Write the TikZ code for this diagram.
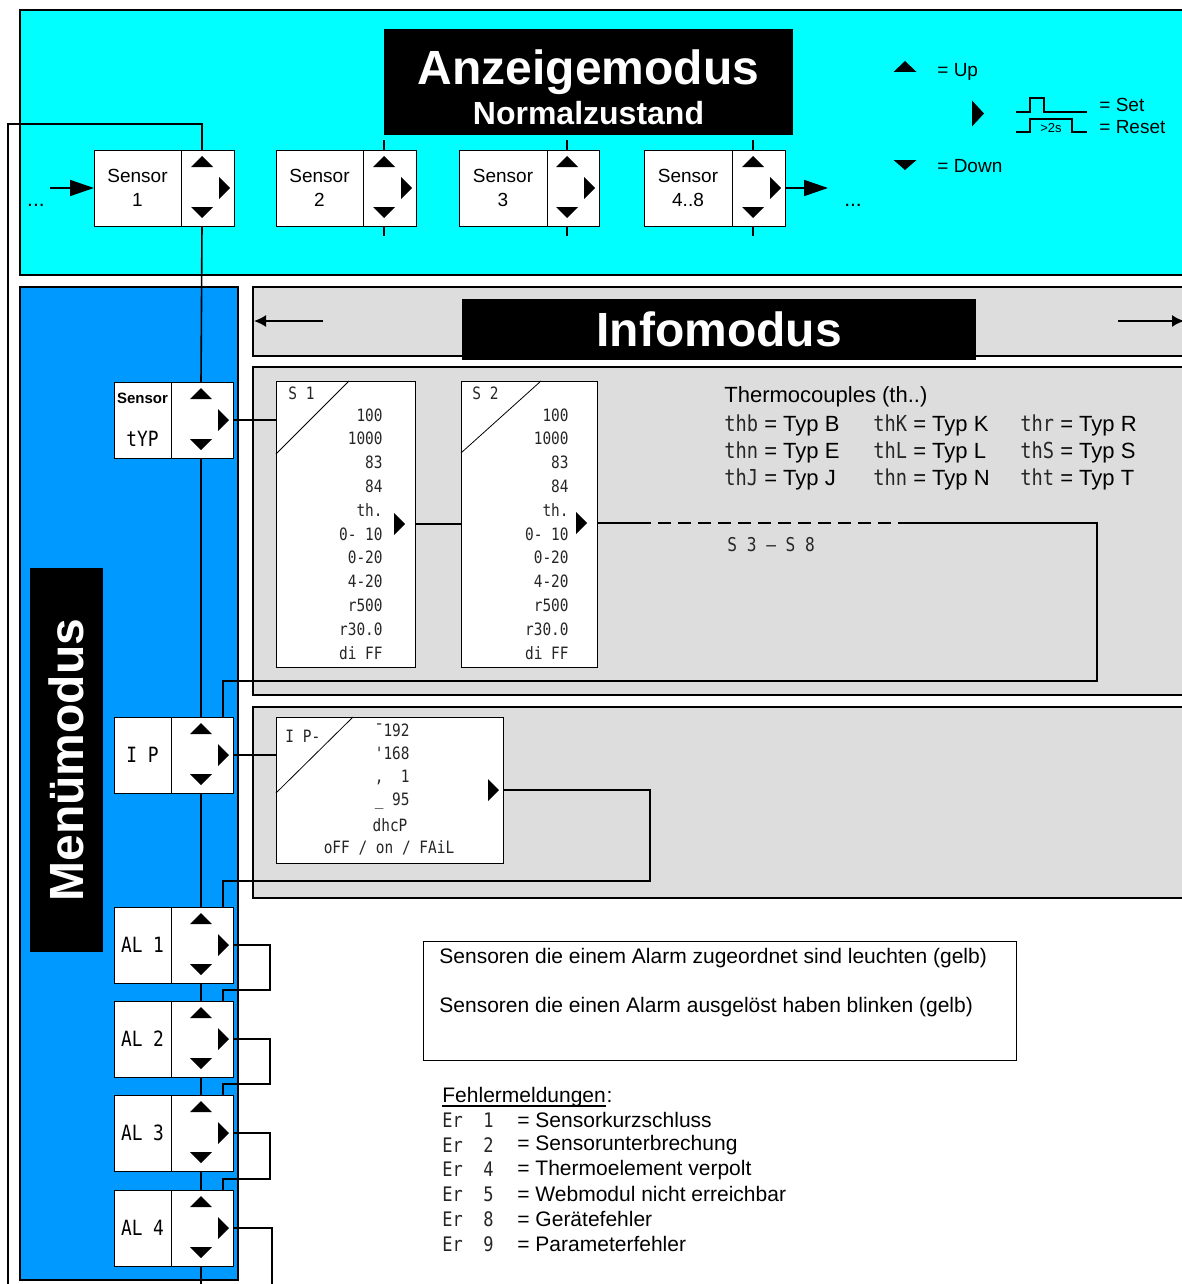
\documentclass[tikz,border=0pt]{standalone}
\usepackage{fontspec}
\setmainfont{Liberation Sans}
\newfontfamily\segfont[FakeStretch=0.85]{DejaVu Sans Mono}
\usetikzlibrary{calc,positioning,arrows.meta}

\definecolor{anzcyan}{RGB}{0,255,255}
\definecolor{menublue}{RGB}{0,153,255}
\definecolor{infogray}{RGB}{221,221,221}

\pgfdeclarelayer{panels}
\pgfdeclarelayer{wires}
\pgfsetlayers{panels,wires,main}

\tikzset{
  panel/.style={line width=1pt},
  labelbox/.style={draw, fill=white, minimum height=38pt, inner sep=0pt, outer sep=0pt,
    align=center, font=\fontsize{9.5}{12}\selectfont},
  keycell/.style={draw, fill=white, minimum height=38pt, inner sep=0pt, outer sep=0pt},
  titlebox/.style={fill=black, inner sep=0pt, outer sep=0pt, text=white},
  display/.style={draw, fill=white, inner sep=0pt, outer sep=0pt, anchor=north west},
  seg/.style={font=\segfont\fontsize{8.5}{10}\selectfont, inner sep=0pt, text=black!85},
  txt/.style={font=\fontsize{10.5}{12}\selectfont, inner sep=0pt},
  legend/.style={font=\fontsize{9.5}{11}\selectfont, inner sep=0pt, anchor=west},
  bigarrow/.style={-{Triangle[length=12pt,width=8pt]}},
  wire/.style={line width=0.8pt}
}

\newcommand{\keybox}[5]{
    % #1 = north west corner, #2 = label width, #3 = key width, #4 = name, #5 = text
    \node[labelbox, minimum width=#2, anchor=north west] (#4) at (#1) {#5};
    \node[keycell, minimum width=#3, anchor=north west] (#4 key) at (#4.north east) {};

    % anchors on the key column
    \coordinate (#4 top) at ($(#4 key.north east)+(-32,0)$);
    \coordinate (#4 bot) at ($(#4 key.south east)+(-32,0)$);
    \coordinate (#4 in) at ($(#4 key.north east)+(-10,0)$);
    \coordinate (#4 out) at (#4 key.east);

    % up, down and set keys
    \fill ($(#4 top)+(0,6)$) -- ++(11,11) -- ++(-22,0) -- cycle;
    \fill ($(#4 bot)+(0,-8)$) -- ++(11,-11) -- ++(-22,0) -- cycle;
    \fill ($(#4 out)+(-4,0)$) -- ++(-11,-11) -- ++(0,22) -- cycle;
}
\newcommand{\settri}[1]{\fill (#1) -- ++(-11,-11) -- ++(0,22) -- cycle;}

\begin{document}
\begin{tikzpicture}[x=0.5pt, y=-0.5pt, line width=0.7pt]
    \useasboundingbox (0,0) rectangle (1182,1284);
    \clip (0,0) rectangle (1182,1284);

    % Mode panels
    \begin{pgfonlayer}{panels}
        \fill[white] (0,0) rectangle (1182,1284);
        \draw[panel, fill=anzcyan] (20,10) rectangle (1200,275);
        \draw[panel, fill=menublue] (20,287) rectangle (238,1280);
        \draw[panel, fill=infogray] (253,287) rectangle (1200,356);
        \draw[panel, fill=infogray] (253,367) rectangle (1200,695);
        \draw[panel, fill=infogray] (253,707) rectangle (1200,898);
    \end{pgfonlayer}

    % Anzeigemodus
    \node[titlebox, minimum width=204.5pt, minimum height=53pt] (anz) at (588.5,82) {};
    \node[text=white, inner sep=0pt, anchor=base, font=\bfseries\fontsize{24}{24}\selectfont] (anz title) at (588.5,85) {Anzeigemodus};
    \node[text=white, inner sep=0pt, anchor=base, font=\bfseries\fontsize{16}{16}\selectfont] (anz sub) at (588.5,125) {Normalzustand};

    \keybox{94,150}{43.5pt}{26.5pt}{s1}{Sensor\\1}
    \keybox{276,150}{43.5pt}{26.5pt}{s2}{Sensor\\2}
    \keybox{459,150}{44pt}{26pt}{s3}{Sensor\\3}
    \keybox{644,150}{44pt}{26.5pt}{s4}{Sensor\\4..8}

    \node[txt] (dots left) at (36,205) {...};
    \node[txt] (dots right) at (853,205) {...};
    \coordinate (prev) at (50,188);
    \coordinate (next) at (828,188);

    % Legend
    \fill (905,61) -- ++(11.5,11) -- ++(-23,0) -- cycle;
    \node[legend] (up) at (937,72) {= Up};
    \fill (984,113.5) -- ++(-12,-13) -- ++(0,26) -- cycle;
    \draw[wire] (1016,112) -| (1030,98) -| (1044,112) -- (1087,112);
    \draw[wire] (1016,132) -| (1030,119) -| (1072,132) -- (1087,132);
    \node[inner sep=0pt, font=\fontsize{6.5}{7}\selectfont] (twosec) at (1051,128) {>2s};
    \node[legend] (set) at (1099,105) {= Set};
    \node[legend] (reset) at (1099,127) {= Reset};
    \fill (905,170) -- ++(11.5,-10) -- ++(-23,0) -- cycle;
    \node[legend] (down) at (937,166) {= Down};

    % Menuemodus
    \node[titlebox, minimum width=192pt, minimum height=36.5pt, rotate=90, font=\bfseries\fontsize{24}{24}\selectfont] (menu) at (66.5,760) {Menümodus};

    \keybox{114,382}{28.5pt}{31pt}{typ}{{\bfseries\fontsize{7.5}{9}\selectfont Sensor}\\[9.5pt]{\segfont\fontsize{10.5}{12}\selectfont tYP}}
    \keybox{114,717}{28.5pt}{31pt}{ip}{\segfont\fontsize{10.5}{12}\selectfont I P}
    \keybox{114,907}{28.5pt}{31pt}{al1}{\segfont\fontsize{10.5}{12}\selectfont AL 1}
    \keybox{114,1001}{28.5pt}{31pt}{al2}{\segfont\fontsize{10.5}{12}\selectfont AL 2}
    \keybox{114,1095}{28.5pt}{31pt}{al3}{\segfont\fontsize{10.5}{12}\selectfont AL 3}
    \keybox{114,1190}{28.5pt}{31pt}{al4}{\segfont\fontsize{10.5}{12}\selectfont AL 4}

    % Infomodus
    \node[titlebox, minimum width=257pt, minimum height=30.5pt, font=\bfseries\fontsize{24}{24}\selectfont] (info) at (719,329.5) {Infomodus};
    \coordinate (info left) at (254,321);
    \coordinate (info right) at (1184,321);
    \draw[wire, -{Latex[length=6pt,width=6pt]}] (323,321) -- (info left);
    \draw[wire, -{Latex[length=6pt,width=6pt]}] (1118,321) -- (info right);

    % Sensor 1 display
    \node[display, minimum width=69.5pt, minimum height=143pt] (s1disp) at (276,381) {};
    \draw (s1disp.north west) ++(0,73) -- ++(73,-73);
    \node[seg, anchor=west] (s1head) at (288,393) {S 1};
    \foreach \v [count=\i from 0] in {100,1000,83,84,th.,0- 10,0-20,4-20,r500,r30.0,di FF}
        \node[seg, anchor=east] (s1v\i) at ($(s1disp.north east)+(-32,34+23.8*\i)$) {\v};
    \coordinate (s1 next) at ($(s1disp.north east)+(-10,143)$);
    \settri{s1 next}

    % Sensor 2 display
    \node[display, minimum width=68pt, minimum height=143pt] (s2disp) at (461,381) {};
    \draw (s2disp.north west) ++(0,72) -- ++(80,-72);
    \node[seg, anchor=west] (s2head) at (472,393) {S 2};
    \foreach \v [count=\i from 0] in {100,1000,83,84,th.,0- 10,0-20,4-20,r500,r30.0,di FF}
        \node[seg, anchor=east] (s2v\i) at ($(s2disp.north east)+(-28,34+23.8*\i)$) {\v};
    \coordinate (s2 next) at ($(s2disp.north east)+(-10,142)$);
    \settri{s2 next}
    \node[seg, font=\segfont\fontsize{9.5}{11}\selectfont, anchor=west] (s38) at (727,545) {S 3 – S 8};

    % Thermocouples
    \node[txt, font=\fontsize{11}{13}\selectfont, anchor=west] (tc) at (724,397) {Thermocouples (th..)};
    \foreach \c/\t [count=\i from 0] in {thb/B,thn/E,thJ/J}
        \node[txt, font=\fontsize{11}{13}\selectfont, anchor=west] (tca\i) at (724,425+27*\i) {{\segfont\color{black!85}\c} = Typ \t};
    \foreach \c/\t [count=\i from 0] in {thK/K,thL/L,thn/N}
        \node[txt, font=\fontsize{11}{13}\selectfont, anchor=west] (tcb\i) at (873,425+27*\i) {{\segfont\color{black!85}\c} = Typ \t};
    \foreach \c/\t [count=\i from 0] in {thr/R,thS/S,tht/T}
        \node[txt, font=\fontsize{11}{13}\selectfont, anchor=west] (tcc\i) at (1020,425+27*\i) {{\segfont\color{black!85}\c} = Typ \t};

    % IP display
    \node[display, minimum width=113.5pt, minimum height=73pt] (ipdisp) at (276,717) {};
    \draw (ipdisp.north west) ++(0,76) -- ++(77,-76);
    \node[seg, anchor=west] (iphead) at (285,736) {I P-};
    \node[seg, anchor=east] (ipv0) at (410,730) {¯192};
    \node[seg, anchor=east] (ipv1) at (410,753) {'168};
    \node[seg, anchor=east] (ipv2) at (410,777) {,\ \ 1};
    \node[seg, anchor=east] (ipv3) at (410,801) {\_ 95};
    \node[seg] (dhcp) at (390,825) {dhcP};
    \node[seg] (dhcpmode) at (389,848) {oFF / on / FAiL};
    \coordinate (ip next) at (499,790);
    \settri{ip next}

    % Alarm note
    \node[draw, fill=white, minimum width=296.5pt, minimum height=59.5pt, anchor=north west, inner sep=0pt, outer sep=0pt] (alarm) at (423,941) {};
    \node[txt, anchor=west] (alarm1) at (439,958) {Sensoren die einem Alarm zugeordnet sind leuchten (gelb)};
    \node[txt, anchor=west] (alarm2) at (439,1007) {Sensoren die einen Alarm ausgelöst haben blinken (gelb)};

    % Fehlermeldungen
    \node[txt, anchor=base west] (err) at (442,1102) {Fehlermeldungen};
    \node[txt, anchor=base west] (errcolon) at (err.base east) {:};
    \draw[line width=0.6pt] ($(err.base west)+(0,4)$) -- ($(err.base east)+(0,4)$);
    \foreach \n/\t [count=\i from 0] in {1/Sensorkurzschluss,2/Sensorunterbrechung,4/Thermoelement verpolt,5/Webmodul nicht erreichbar,8/Gerätefehler,9/Parameterfehler}{
        \node[seg, font=\segfont\fontsize{10}{12}\selectfont, anchor=west] (errc\i) at (442,1120+24.8*\i) {Er\ \ \n};
        \node[txt, anchor=west] (errt\i) at (517,1120+24.8*\i) {= \t};
    }

    % Connectors
    \begin{pgfonlayer}{wires}
        \draw[wire, bigarrow] (prev) -- (s1.west);
        \draw[wire, bigarrow] (s4 out) -- (next);
        \draw[wire] (s1 top) -- ++(0,-26) -| (8,1290);
        \foreach \s in {s2,s3,s4}{
            \draw[wire] (\s\space top) -- ++(0,-10);
            \draw[wire] (\s\space bot) -- ++(0,10);
        }

        % main column
        \draw[wire] (s1 bot) -- (typ top);
        \draw[wire] (typ bot) -- (ip top);
        \draw[wire] (ip bot) -- (al1 top);
        \draw[wire] (al1 bot) -- (al2 top);
        \draw[wire] (al2 bot) -- (al3 top);
        \draw[wire] (al3 bot) -- (al4 top);
        \draw[wire] (al4 bot) -- ++(0,30);

        % sensor info chain
        \draw[wire] (typ out) -- (typ out -| s1disp.west);
        \draw[wire] (s1 next) -- (s1 next -| s2disp.west);
        \coordinate (dash a) at ($(s2 next)+(51,0)$);
        \coordinate (dash b) at ($(s2 next)+(316,0)$);
        \coordinate (back) at ($(s2 next)+(510,0)$);
        \draw[wire] (s2 next) -- (dash a);
        \draw[wire, dash pattern=on 6.5pt off 3.5pt] (dash a) -- (dash b);
        \draw[wire] (dash b) -- (back) |- ($(ip in)+(0,-36)$) -- (ip in);

        % IP chain
        \draw[wire] (ip out) -- (ip out -| ipdisp.west);
        \draw[wire] (ip next) -- ++(151,0) |- ($(al1 in)+(0,-26)$) -- (al1 in);

        % alarm chain
        \draw[wire] (al1 out) -- ++(37,0) |- ($(al2 in)+(0,-11)$) -- (al2 in);
        \draw[wire] (al2 out) -- ++(37,0) |- ($(al3 in)+(0,-11)$) -- (al3 in);
        \draw[wire] (al3 out) -- ++(37,0) |- ($(al4 in)+(0,-11)$) -- (al4 in);
        \draw[wire] (al4 out) -- ++(39,0) -- ++(0,60);
    \end{pgfonlayer}
\end{tikzpicture}
\end{document}
